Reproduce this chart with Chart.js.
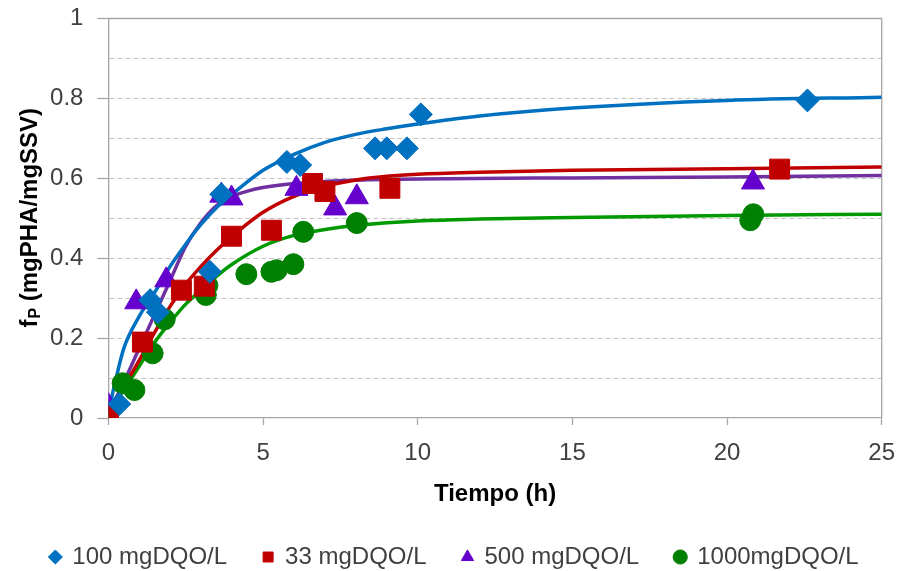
<!DOCTYPE html>
<html><head><meta charset="utf-8">
<script src="https://cdn.jsdelivr.net/npm/chart.js@4.4.1/dist/chart.umd.min.js"></script>
<style>html,body{margin:0;padding:0;background:#fff;}#wrap{width:897px;height:571px;}</style>
</head><body><div id="wrap"><canvas id="c" width="897" height="571"></canvas></div>
<script>
// ---- data ----
const seriesNames = ['100 mgDQO/L', '33 mgDQO/L', '500 mgDQO/L', '1000mgDQO/L'];

// measured points (time in h, fP)
const t100 = [0.35, 1.35, 1.6, 3.28, 3.65, 5.77, 6.2, 8.62, 9.0, 9.65, 10.1, 22.6];
const v100 = [0.035, 0.295, 0.265, 0.366, 0.56, 0.641, 0.633, 0.675, 0.675, 0.675, 0.76, 0.795];

const t33 = [0, 1.1, 2.36, 3.1, 3.98, 5.27, 6.6, 7.0, 9.1, 21.7];
const v33 = [0.005, 0.19, 0.32, 0.33, 0.455, 0.47, 0.587, 0.567, 0.575, 0.623];

const t500 = [0, 0.9, 1.87, 3.65, 3.98, 6.08, 7.33, 8.03, 20.84];
const v500 = [0.03, 0.29, 0.345, 0.557, 0.55, 0.574, 0.525, 0.553, 0.59];

const t1000 = [0, 0.46, 0.84, 1.43, 1.82, 3.15, 3.2, 4.46, 5.27, 5.44, 5.98, 6.3, 8.03, 20.75, 20.85];
const v1000 = [0.012, 0.087, 0.07, 0.162, 0.247, 0.308, 0.332, 0.36, 0.366, 0.37, 0.385, 0.466, 0.488, 0.495, 0.51];

// fitted curves
const fitT100 = [0, 0.25, 0.5, 1, 1.5, 2, 2.5, 3, 3.5, 4, 5, 6, 7, 8, 9, 10, 12, 15, 20, 25];
const fitV100 = [0.015, 0.10, 0.175, 0.255, 0.315, 0.38, 0.435, 0.485, 0.527, 0.56, 0.62, 0.66, 0.69, 0.71, 0.724, 0.736, 0.756, 0.776, 0.795, 0.803];

const fitT33 = [0, 0.5, 1, 1.5, 2, 2.5, 3, 3.5, 4, 5, 6, 7, 8, 9, 10, 12, 15, 20, 25];
const fitV33 = [0.012, 0.078, 0.145, 0.215, 0.28, 0.335, 0.38, 0.42, 0.455, 0.515, 0.555, 0.58, 0.596, 0.605, 0.61, 0.615, 0.62, 0.624, 0.628];

const fitT500 = [0, 0.5, 1, 1.5, 2, 2.5, 3, 3.5, 4, 4.5, 5, 6, 7, 8, 10, 15, 20, 25];
const fitV500 = [0.012, 0.09, 0.175, 0.26, 0.345, 0.43, 0.49, 0.532, 0.555, 0.568, 0.577, 0.587, 0.592, 0.595, 0.598, 0.601, 0.603, 0.607];

const fitT1000 = [0, 0.5, 1, 1.5, 2, 2.5, 3, 3.5, 4, 5, 6, 7, 8, 10, 12, 15, 20, 25];
const fitV1000 = [0.012, 0.07, 0.13, 0.19, 0.24, 0.285, 0.32, 0.355, 0.385, 0.43, 0.457, 0.472, 0.482, 0.493, 0.498, 0.502, 0.507, 0.51];

const xTickValues = [0, 5, 10, 15, 20, 25];
const yTickLabels = ['0', '0.2', '0.4', '0.6', '0.8', '1'];
const xTitle = 'Tiempo (h)';
const yTitleMain = 'f';
const yTitleSub = 'P';
const yTitleRest = ' (mgPHA/mgSSV)';

// ---- build ----
const pts = (xs, ys) => xs.map((x, i) => ({x: x, y: ys[i]}));
const FONT = "'Liberation Sans', Arial, sans-serif";
const AXIS = '#A6A6A6';
const TXT = '#404040';

const markerSets = [
  {label: seriesNames[0], data: pts(t100, v100), pointStyle: 'rectRot', pointRadius: 11.5, backgroundColor: '#0070C0', borderColor: '#0070C0'},
  {label: seriesNames[1], data: pts(t33, v33), pointStyle: 'rect', pointRadius: 14.1, backgroundColor: '#C00000', borderColor: '#C00000'},
  {label: seriesNames[2], data: pts(t500, v500), pointStyle: 'triangle', pointRadius: 13.3, backgroundColor: '#6600CC', borderColor: '#6600CC'},
  {label: seriesNames[3], data: pts(t1000, v1000), pointStyle: 'circle', pointRadius: 10.5, backgroundColor: '#008000', borderColor: '#008000'}
].map(d => Object.assign(d, {showLine: false, pointBorderWidth: 1, pointHoverRadius: d.pointRadius, yAxisID: 'y'}));

const lineSets = [
  {label: 'fit100', data: pts(fitT100, fitV100), borderColor: '#0070C0'},
  {label: 'fit33', data: pts(fitT33, fitV33), borderColor: '#C00000'},
  {label: 'fit500', data: pts(fitT500, fitV500), borderColor: '#7030A0'},
  {label: 'fit1000', data: pts(fitT1000, fitV1000), borderColor: '#009900'}
].map(d => Object.assign(d, {showLine: true, pointRadius: 0, borderWidth: 3.5, cubicInterpolationMode: 'monotone', fill: false, yAxisID: 'y'}));

const decor = {
  id: 'decor',
  beforeDatasetsDraw(chart) {
    const {ctx, chartArea: a} = chart;
    ctx.save();
    ctx.strokeStyle = AXIS; ctx.lineWidth = 1.3;
    ctx.beginPath();
    ctx.moveTo(a.left, a.top); ctx.lineTo(a.right, a.top); ctx.lineTo(a.right, a.bottom);
    ctx.stroke();
    ctx.restore();
  },
  afterDraw(chart) {
    const {ctx, chartArea: a} = chart;
    ctx.save();
    ctx.fillStyle = '#000';
    ctx.font = 'bold 24px ' + FONT;
    ctx.textAlign = 'center'; ctx.textBaseline = 'middle';
    ctx.fillText(xTitle, (a.left + a.right) / 2, 494);
    // y title with subscript
    ctx.translate(30, (a.top + a.bottom) / 2);
    ctx.rotate(-Math.PI / 2);
    const fMain = 'bold 24px ' + FONT, fSub = 'bold 16px ' + FONT;
    ctx.font = fMain; const w1 = ctx.measureText(yTitleMain).width; const w3 = ctx.measureText(yTitleRest).width;
    ctx.font = fSub; const w2 = ctx.measureText(yTitleSub).width;
    let x = -(w1 + w2 + w3) / 2;
    ctx.textAlign = 'left';
    ctx.font = fMain; ctx.fillText(yTitleMain, x, 0); x += w1 + 1;
    ctx.font = fSub; ctx.fillText(yTitleSub, x, 6); x += w2;
    ctx.font = fMain; ctx.fillText(yTitleRest, x, 0);
    ctx.restore();
  }
};

new Chart(document.getElementById('c'), {
  type: 'scatter',
  data: {datasets: markerSets.concat(lineSets)},
  options: {
    responsive: false, animation: false, events: [], devicePixelRatio: 1,
    layout: {padding: {left: 12, right: 0, top: 18.5, bottom: 0}},
    plugins: {
      tooltip: {enabled: false},
      legend: {
        position: 'bottom', maxHeight: 62,
        labels: {
          usePointStyle: true, boxWidth: 10, boxHeight: 10, padding: 36,
          font: {family: FONT, size: 24}, color: TXT,
          filter: item => item.datasetIndex < 4
        }
      }
    },
    scales: {
      x: {
        type: 'linear', min: 0, max: 25,
        afterBuildTicks: s => { s.ticks = xTickValues.map(v => ({value: v})); },
        afterFit: s => { s.height = 91; s.paddingLeft = 0; s.paddingRight = 0; },
        grid: {color: 'rgba(0,0,0,0)', tickColor: AXIS, tickLength: 7, tickWidth: 1.3},
        border: {color: AXIS, width: 1.3},
        ticks: {font: {family: FONT, size: 24}, color: TXT, padding: 13.6, maxRotation: 0}
      },
      y: {
        type: 'linear', min: 0, max: 1, position: 'left',
        ticks: {
          stepSize: 0.1, font: {family: FONT, size: 24}, color: TXT, padding: 14,
          callback: v => { const k = Math.round(v * 10); return k % 2 === 0 ? yTickLabels[k / 2] : ''; }
        },
        afterFit: s => { s.width = 96.4; s.paddingTop = 0; s.paddingBottom = 0; },
        grid: {
          color: c => (c.tick && Math.round(c.tick.value * 10) > 0) ? '#C4C4C4' : 'rgba(0,0,0,0)',
          lineWidth: 1,
          tickColor: c => (c.tick && Math.round(c.tick.value * 10) % 2 === 0) ? AXIS : 'rgba(0,0,0,0)',
          tickLength: 11, tickWidth: 1.3
        },
        border: {color: AXIS, width: 1.3, dash: [5, 3]}
      },
      yRight: {
        type: 'linear', position: 'right', min: 0, max: 1, display: true,
        ticks: {display: false}, grid: {display: false, drawTicks: false}, border: {display: false},
        afterFit: s => { s.width = 15.3; s.paddingTop = 0; s.paddingBottom = 0; }
      }
    }
  },
  plugins: [decor]
});
</script></body></html>
